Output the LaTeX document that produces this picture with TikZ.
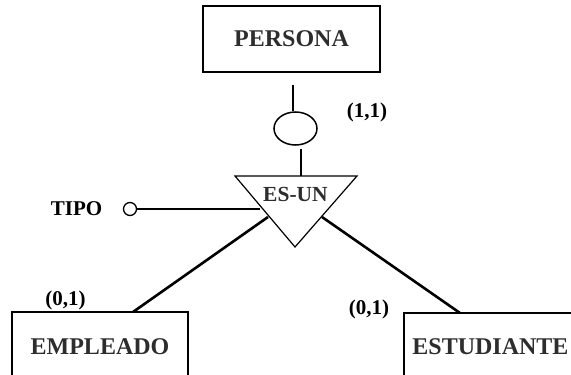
\documentclass[tikz,border=0pt]{standalone}
\usepackage{fontspec}
\setmainfont{Liberation Serif}
\usetikzlibrary{shapes.geometric}
\definecolor{labelgray}{RGB}{45,45,45}
\begin{document}
\begin{tikzpicture}[x=1pt,y=-1pt,
  entity/.style={draw, line width=2pt, rectangle, inner sep=0pt,
    font=\fontsize{24}{24}\selectfont\bfseries, text=labelgray},
  link/.style={line width=2.6pt},
  thinlink/.style={line width=1.2pt},
  card/.style={inner sep=0pt, font=\fontsize{21}{21}\selectfont\bfseries},
  isa/.style={inner sep=0pt, font=\fontsize{21.5}{21.5}\selectfont\bfseries, text=labelgray}]
\useasboundingbox (0,0) rectangle (571,375);
\clip (0,0) rectangle (571,375);

% entities
\node[entity, minimum width=177pt, minimum height=66pt] (persona) at (291.5,39) {PERSONA};
\node[entity, minimum width=176pt, minimum height=70pt] (empleado) at (100,347) {EMPLEADO};
\node[entity, minimum width=173pt, minimum height=68pt] (estudiante) at (490.5,347) {ESTUDIANTE};

% ES-UN triangle
\coordinate (tl) at (235,176);
\coordinate (tr) at (357,176);
\coordinate (tb) at (295,247);
\draw[thinlink, line join=miter] (tl) -- (tr) -- (tb) -- cycle;
\node[isa] (esun) at (295.5,194.5) {ES-UN};

% total participation oval
\node[draw, ellipse, line width=1.5pt, minimum width=43pt, minimum height=33pt, inner sep=0pt] (oval) at (295.5,128.5) {};
\coordinate (pa) at (293,85);
\coordinate (ob) at (301,149);
\coordinate (ta) at (301,176);
\draw[link] (pa) -- (pa |- oval.north);
\draw[link] (ob) -- (ta);

% discriminating attribute
\node[draw, circle, line width=1.3pt, minimum size=13pt, inner sep=0pt] (tipoc) at (130,209) {};
\node[card] (tipo) at (76.5,208.5) {TIPO};
\coordinate (tt) at (260,209);
\draw[link] (tipoc.east) -- (tt);

% subclass links
\coordinate (el) at (268,217);
\coordinate (ea) at (133,312);
\coordinate (er) at (322,217);
\coordinate (sa) at (460,313);
\draw[link] (el) -- (ea);
\draw[link] (er) -- (sa);

% cardinalities
\node[card] (c11) at (367,112) {(1,1)};
\node[card] (c01a) at (65.5,300) {(0,1)};
\node[card] (c01b) at (369,309) {(0,1)};
\end{tikzpicture}
\end{document}
